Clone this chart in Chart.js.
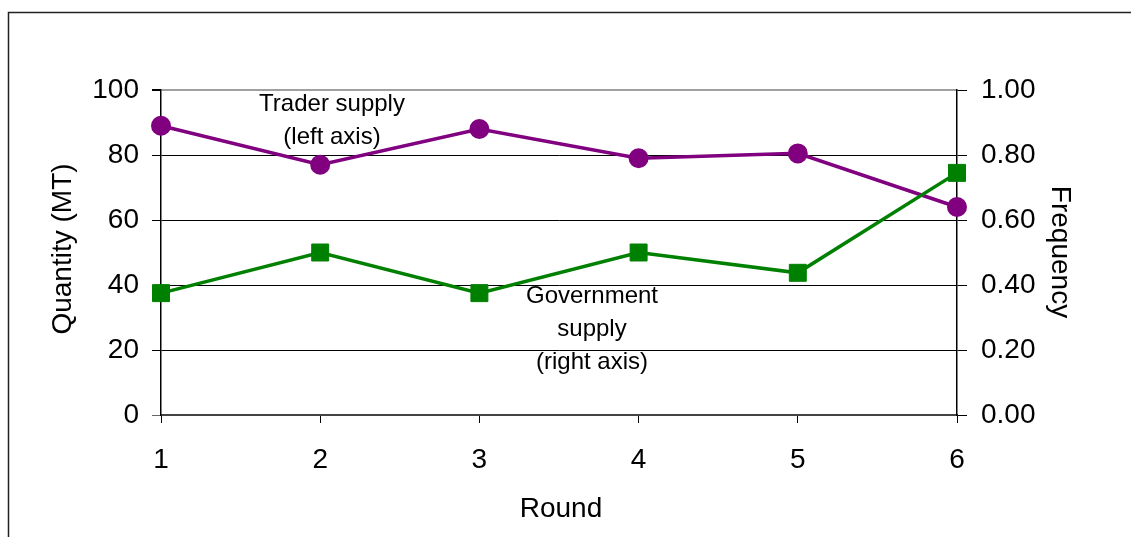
<!DOCTYPE html>
<html>
<head>
<meta charset="utf-8">
<script src="https://cdn.jsdelivr.net/npm/chart.js@4.4.0/dist/chart.umd.min.js"></script>
<style>
  html, body { margin: 0; padding: 0; background: #fff; }
  canvas { display: block; }
</style>
</head>
<body>
<canvas id="chart" width="1131" height="537"></canvas>
<script>
// rounds on the x axis
const rounds = [1, 2, 3, 4, 5, 6];
// trader supply, quantity in MT (left axis)
const traderSupply = [89, 77, 88, 79, 80.5, 64];
// government supply, frequency (right axis)
const govSupply = [0.375, 0.5, 0.375, 0.5, 0.4375, 0.745];

const FONT = '"Liberation Sans", Arial, sans-serif';

const framePlugin = {
  id: 'frame',
  beforeDraw(chart) {
    const ctx = chart.ctx;
    ctx.save();
    ctx.fillStyle = '#fff';
    ctx.fillRect(0, 0, chart.width, chart.height);
    ctx.strokeStyle = '#222';
    ctx.lineWidth = 1.5;
    ctx.beginPath();
    ctx.moveTo(8.5, chart.height);
    ctx.lineTo(8.5, 12.5);
    ctx.lineTo(chart.width, 12.5);
    ctx.stroke();
    ctx.restore();
  },
  afterDraw(chart) {
    const ctx = chart.ctx;
    ctx.save();
    ctx.fillStyle = '#000';
    ctx.textAlign = 'center';
    ctx.textBaseline = 'middle';

    // axis titles
    ctx.font = '28px ' + FONT;
    ctx.fillText('Round', 561, 509);

    ctx.save();
    ctx.translate(63, 249);
    ctx.rotate(-Math.PI / 2);
    ctx.fillText('Quantity (MT)', 0, 0);
    ctx.restore();

    ctx.save();
    ctx.translate(1060, 252);
    ctx.rotate(Math.PI / 2);
    ctx.fillText('Frequency', 0, 0);
    ctx.restore();

    // series labels
    ctx.font = '24px ' + FONT;
    ctx.fillText('Trader supply', 332, 104);
    ctx.fillText('(left axis)', 332, 137);
    ctx.fillText('Government', 592, 296);
    ctx.fillText('supply', 592, 329);
    ctx.fillText('(right axis)', 592, 362);
    ctx.restore();
  }
};

new Chart(document.getElementById('chart'), {
  type: 'line',
  data: {
    datasets: [
      {
        label: 'Trader supply',
        data: rounds.map((r, i) => ({ x: r, y: traderSupply[i] })),
        yAxisID: 'y',
        borderColor: '#800080',
        backgroundColor: '#800080',
        borderWidth: 3.5,
        pointStyle: 'circle',
        pointRadius: 9,
        pointBorderWidth: 2,
        tension: 0,
        clip: false,
        order: 2
      },
      {
        label: 'Government supply',
        data: rounds.map((r, i) => ({ x: r, y: govSupply[i] })),
        yAxisID: 'y1',
        borderColor: '#008000',
        backgroundColor: '#008000',
        borderWidth: 3.5,
        pointStyle: 'rect',
        pointRadius: 12,
        pointBorderWidth: 1,
        tension: 0,
        clip: false,
        order: 1
      }
    ]
  },
  options: {
    responsive: false,
    devicePixelRatio: 1,
    animation: false,
    layout: { padding: { top: 90, left: 0, right: 0, bottom: 0 } },
    plugins: {
      legend: { display: false },
      tooltip: { enabled: false }
    },
    scales: {
      x: {
        type: 'linear',
        min: 1,
        max: 6,
        afterFit: s => { s.height = 122; },
        ticks: { stepSize: 1, color: '#000', padding: 20, font: { family: FONT, size: 28 } },
        grid: { drawOnChartArea: false, tickLength: 8, color: '#000' },
        border: { color: '#444', width: 2 }
      },
      y: {
        position: 'left',
        min: 0,
        max: 100,
        afterFit: s => { s.width = 161; },
        ticks: { stepSize: 20, color: '#000', padding: 13, font: { family: FONT, size: 28 } },
        grid: {
          color: c => (c.tick && c.tick.value === 100 ? '#a0a0a0' : '#000'),
          lineWidth: c => (c.tick && c.tick.value === 100 ? 2 : 1),
          tickColor: c => (c.tick && c.tick.value === 0 ? '#666' : '#000'),
          tickLength: 9
        },
        border: { color: '#000', width: 1.5 }
      },
      y1: {
        position: 'right',
        min: 0,
        max: 1,
        afterFit: s => { s.width = 174; },
        ticks: {
          stepSize: 0.2,
          color: '#000',
          padding: 14,
          font: { family: FONT, size: 28 },
          callback: v => Number(v).toFixed(2)
        },
        grid: { drawOnChartArea: false, tickColor: '#000', tickLength: 10 },
        border: { color: '#000', width: 1.5 }
      }
    }
  },
  plugins: [framePlugin]
});
</script>
</body>
</html>
